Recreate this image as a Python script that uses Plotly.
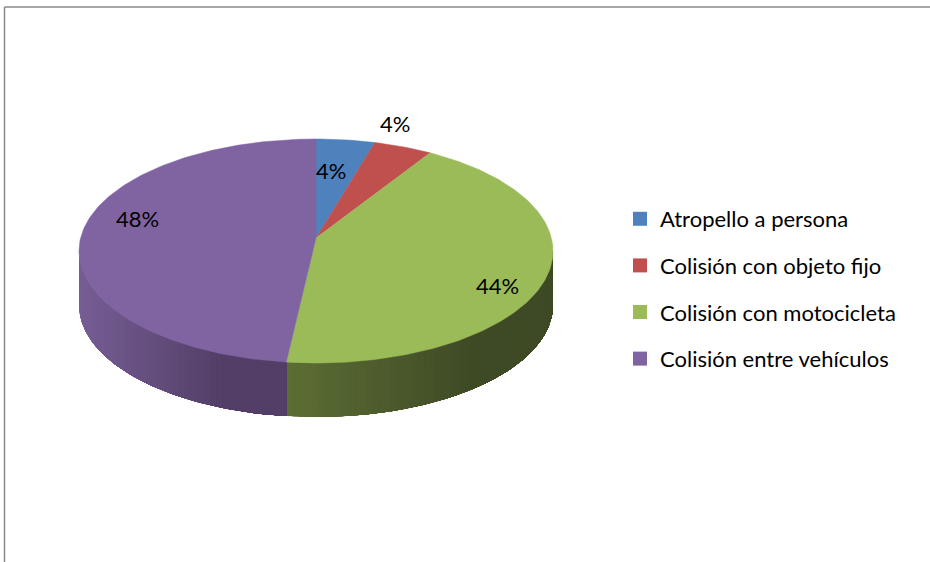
import numpy as np
import plotly.graph_objects as go

# Accident types and their share of the total (%)
categories = ["Atropello a persona", "Colisión con objeto fijo",
              "Colisión con motocicleta", "Colisión entre vehículos"]
values = [4, 4, 44, 48]
labels = ["4%", "4%", "44%", "48%"]

top_colors = ["#4f81bd", "#c0504d", "#9bbb59", "#8064a2"]
# side wall shading: (light, dark) per slice
side_colors = [((79, 110, 150), (55, 80, 115)),
               ((150, 62, 60), (110, 45, 43)),
               ((93, 110, 52), (62, 74, 37)),
               ((118, 94, 148), (82, 62, 102))]

W, H = 930, 562
cx, cy = 316.0, 251.0        # centre of the rim ellipse
rx, ry = 237.0, 112.0        # radii of the rim ellipse
apex_x, apex_y = 316.0, 238.0
depth = 54.0
FONT = "Lato"


def rim(theta_deg):
    t = np.radians(theta_deg)
    return cx + rx * np.sin(t), cy - ry * np.cos(t)


fig = go.Figure()

total = float(sum(values))
bounds = np.concatenate([[0.0], np.cumsum(values) / total * 360.0])

# side walls (front half of the pie only); each shaded strip runs to the end
# of the slice so the next strip covers it without leaving seams
for i in range(len(values)):
    a, b = bounds[i], bounds[i + 1]
    lo, hi = max(a, 90.0), min(b, 270.0)
    if hi <= lo:
        continue
    n = max(2, int(np.ceil((hi - lo) / 1.5)))
    ts = np.linspace(lo, hi, n + 1)
    light, dark = side_colors[i]
    xl, _ = rim(hi)
    xr, _ = rim(lo)
    span = max(xr - xl, 1.0)
    # draw from the left end (hi) towards the right end (lo)
    for k in range(n, 0, -1):
        t_start = ts[k]
        t_mid = 0.5 * (ts[k] + ts[k - 1])
        xm, _ = rim(t_mid)
        f = np.clip((xm - xl) / (span * 0.7), 0, 1)
        c = tuple(int(round(light[j] + (dark[j] - light[j]) * f)) for j in range(3))
        col = "rgb(%d,%d,%d)" % c
        seg = np.linspace(t_start, lo, max(2, int((t_start - lo) / 1.0) + 2))
        xs, ys = rim(seg)
        px = np.concatenate([xs, xs[::-1], [xs[0]]])
        py = np.concatenate([ys, ys[::-1] + depth, [ys[0]]])
        fig.add_trace(go.Scatter(
            x=px, y=py, mode="lines", fill="toself", fillcolor=col,
            line=dict(width=0), hoverinfo="skip", showlegend=False))

# top faces
for i in range(len(values)):
    a, b = bounds[i], bounds[i + 1]
    ts = np.linspace(a, b, max(3, int((b - a) / 1.0) + 2))
    xs, ys = rim(ts)
    px = np.concatenate([[apex_x], xs, [apex_x]])
    py = np.concatenate([[apex_y], ys, [apex_y]])
    fig.add_trace(go.Scatter(
        x=px, y=py, mode="lines", fill="toself",
        fillcolor=top_colors[i], line=dict(color=top_colors[i], width=0.5),
        hoverinfo="skip", showlegend=False))

# legend entries
for i, name in enumerate(categories):
    fig.add_trace(go.Scatter(
        x=[None], y=[None], mode="markers", name=name,
        marker=dict(symbol="square", size=14, color=top_colors[i]),
        legendgroup="g%d" % i))

# percentage labels
label_pos = [(331, 170), (395, 123), (497, 285), (137, 218)]
for (lx, ly), txt in zip(label_pos, labels):
    fig.add_annotation(x=lx, y=ly, text=txt, showarrow=False,
                       font=dict(size=22, color="black", family=FONT),
                       xanchor="center", yanchor="middle")

# outer frame (top and left edges; the rest lies outside the page)
fig.add_shape(type="line", xref="paper", yref="paper",
              x0=4.5 / W, y0=1 - 7 / H, x1=1.0, y1=1 - 7 / H,
              line=dict(color="#8a8a8a", width=1.5))
fig.add_shape(type="line", xref="paper", yref="paper",
              x0=4.5 / W, y0=1 - 7 / H, x1=4.5 / W, y1=0.0,
              line=dict(color="#8a8a8a", width=1.5))

fig.update_layout(
    width=W, height=H,
    margin=dict(l=0, r=0, t=0, b=0),
    paper_bgcolor="white", plot_bgcolor="white",
    xaxis=dict(range=[0, W], visible=False, fixedrange=True),
    yaxis=dict(range=[H, 0], visible=False, fixedrange=True),
    showlegend=True,
    legend=dict(x=620 / W, y=1 - 198 / H, xanchor="left", yanchor="top",
                font=dict(size=22, color="black", family=FONT),
                tracegroupgap=15, bgcolor="rgba(0,0,0,0)"),
)

fig.write_html("out.html")
